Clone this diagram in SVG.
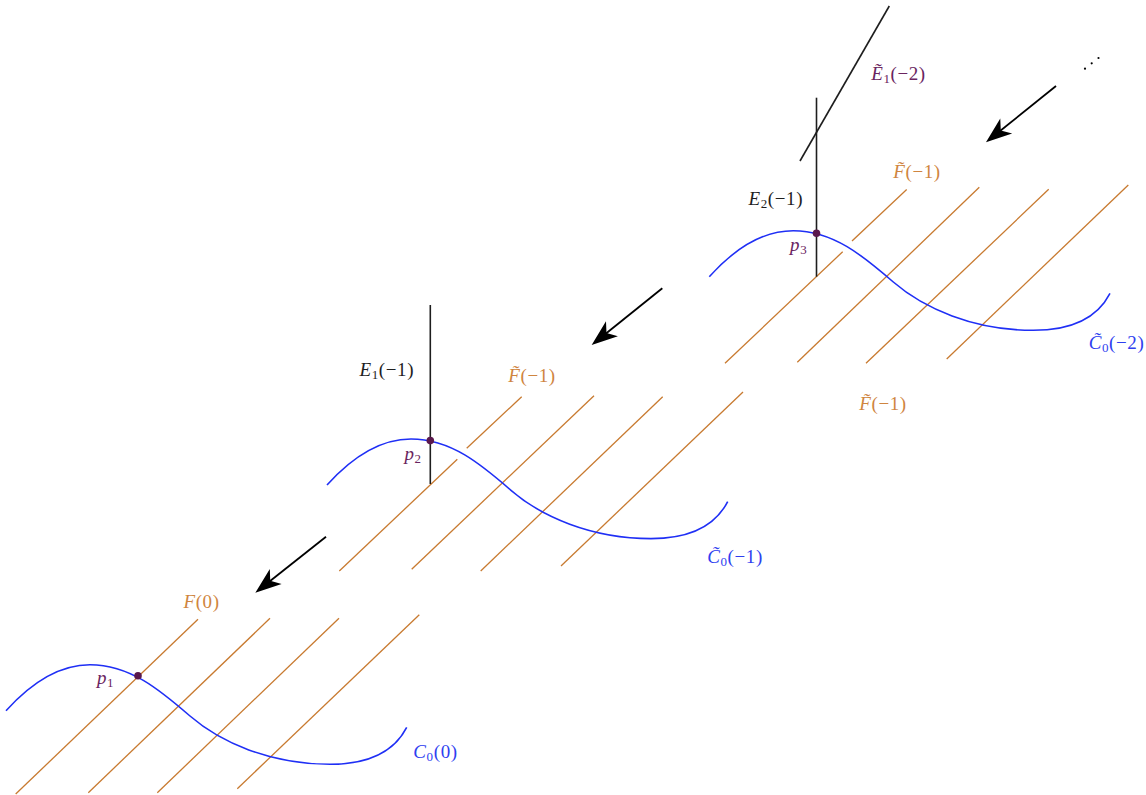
<svg xmlns="http://www.w3.org/2000/svg" xmlns:xlink="http://www.w3.org/1999/xlink" width="1146" height="795" viewBox="0 0 1146 795">
<style>
.or{stroke:#c87a30;stroke-width:1.3;fill:none}
.bl{stroke:#1f2ff5;stroke-width:1.6;fill:none}
.ex{stroke:#1e1e1e;stroke-width:1.6;fill:none}
.ar{stroke:#000;stroke-width:1.8;fill:none}
.pt{fill:#5a184c}
text{font-family:"Liberation Serif","Times New Roman",serif;font-size:19px;letter-spacing:0.6px}
.i{font-style:italic}
.s{font-size:13px}
.to{fill:#cf8540}
.tb{fill:#2f3ff0}
.tp{fill:#6a2460}
.tk{fill:#1e1e1e}
</style>
<defs>
<path id="curve" d="M6,710.7 C31,683 60,664.7 90,664.7 C130,664.7 160,690 190,716 C220,742 270,764.3 330,764.3 C370,764.3 395,750 406.7,727.3"/>
<marker id="stealth" markerUnits="userSpaceOnUse" markerWidth="40" markerHeight="30" refX="0" refY="0" orient="auto" overflow="visible">
<path d="M8,0 L-18,-9.5 L-11,0 L-18,9.5 Z" fill="#000"/>
</marker>
</defs>

<g id="fibres">
<g id="fibres-0">
<line class="or" x1="15.7" y1="794" x2="198" y2="619.3"/>
<line class="or" x1="88.3" y1="792.7" x2="270" y2="618.3"/>
<line class="or" x1="157.3" y1="792.7" x2="339" y2="618.3"/>
<line class="or" x1="237.3" y1="788.7" x2="419.3" y2="614.7"/>
</g>
<g id="fibres-1">
<line class="or" x1="339.3" y1="571" x2="457.3" y2="459.3"/>
<line class="or" x1="466.7" y1="448.3" x2="521.7" y2="396.7"/>
<line class="or" x1="411.7" y1="569.3" x2="594" y2="395.7"/>
<line class="or" x1="480.7" y1="571" x2="662.7" y2="396.7"/>
<line class="or" x1="561" y1="566" x2="743" y2="392"/>
</g>
<g id="fibres-2">
<line class="or" x1="725" y1="363.3" x2="842.7" y2="251.7"/>
<line class="or" x1="852" y1="241" x2="906.7" y2="189.5"/>
<line class="or" x1="797.3" y1="362.3" x2="979.3" y2="187.3"/>
<line class="or" x1="866" y1="363.3" x2="1048.7" y2="189.3"/>
<line class="or" x1="946.7" y1="359" x2="1128.3" y2="185"/>
</g>
</g>

<g id="curve-C0-0"><use xlink:href="#curve" href="#curve" class="bl"/></g>
<g id="curve-C0-m1"><use xlink:href="#curve" href="#curve" class="bl" transform="translate(321,-225.7)"/></g>
<g id="curve-C0-m2"><use xlink:href="#curve" href="#curve" class="bl" transform="translate(703.3,-434)"/></g>

<g id="E1-m1"><line class="ex" x1="430.3" y1="305" x2="430.3" y2="484"/></g>
<g id="E2-m1"><line class="ex" x1="816.5" y1="97.7" x2="816.5" y2="276.7"/></g>
<g id="E1t-m2"><line class="ex" x1="800" y1="161" x2="889.3" y2="6"/></g>

<g id="connectors">
<line class="ar" x1="326" y1="536.7" x2="261.6" y2="587.7" marker-end="url(#stealth)"/>
<line class="ar" x1="662.3" y1="288.3" x2="597.9" y2="340" marker-end="url(#stealth)"/>
<line class="ar" x1="1056" y1="86" x2="992.2" y2="137.3" marker-end="url(#stealth)"/>
</g>

<g id="p1"><circle class="pt" cx="138" cy="675.8" r="3.8"/><text class="tp i" x="105.5" y="684" text-anchor="middle">p<tspan class="s" dy="3" font-style="normal">1</tspan></text></g>
<g id="p2"><circle class="pt" cx="430.3" cy="440.6" r="3.8"/><text class="tp i" x="413" y="460" text-anchor="middle">p<tspan class="s" dy="3" font-style="normal">2</tspan></text></g>
<g id="p3"><circle class="pt" cx="816.5" cy="233.3" r="3.8"/><text class="tp i" x="798.7" y="251" text-anchor="middle">p<tspan class="s" dy="3" font-style="normal">3</tspan></text></g>

<g id="labels">
<text class="tk" x="386.8" y="375.5" text-anchor="middle"><tspan class="i">E</tspan><tspan class="s" dy="3">1</tspan><tspan dy="-3">(−1)</tspan></text>
<text class="tk" x="775.8" y="205" text-anchor="middle"><tspan class="i">E</tspan><tspan class="s" dy="3">2</tspan><tspan dy="-3">(−1)</tspan></text>
<text class="tp" x="898.5" y="80" text-anchor="middle"><tspan class="i">Ẽ</tspan><tspan class="s" dy="3">1</tspan><tspan dy="-3">(−2)</tspan></text>
<text class="to" x="201.5" y="608" text-anchor="middle"><tspan class="i">F</tspan>(0)</text>
<text class="to" x="532" y="382" text-anchor="middle"><tspan class="i">F̃</tspan>(−1)</text>
<text class="to" x="917" y="178" text-anchor="middle"><tspan class="i">F̃</tspan>(−1)</text>
<text class="to" x="883" y="410" text-anchor="middle"><tspan class="i">F̃</tspan>(−1)</text>
<text class="tb" x="435.5" y="758" text-anchor="middle"><tspan class="i">C</tspan><tspan class="s" dy="3">0</tspan><tspan dy="-3">(0)</tspan></text>
<text class="tb" x="735" y="563" text-anchor="middle"><tspan class="i">C̃</tspan><tspan class="s" dy="3">0</tspan><tspan dy="-3">(−1)</tspan></text>
<text class="tb" x="1116.5" y="349" text-anchor="middle"><tspan class="i">C̃</tspan><tspan class="s" dy="3">0</tspan><tspan dy="-3">(−2)</tspan></text>
</g>

<g id="dots">
<circle cx="1085" cy="68.7" r="1.1" fill="#000"/>
<circle cx="1091.7" cy="63.3" r="1.1" fill="#000"/>
<circle cx="1098.5" cy="58" r="1.1" fill="#000"/>
</g>
</svg>
